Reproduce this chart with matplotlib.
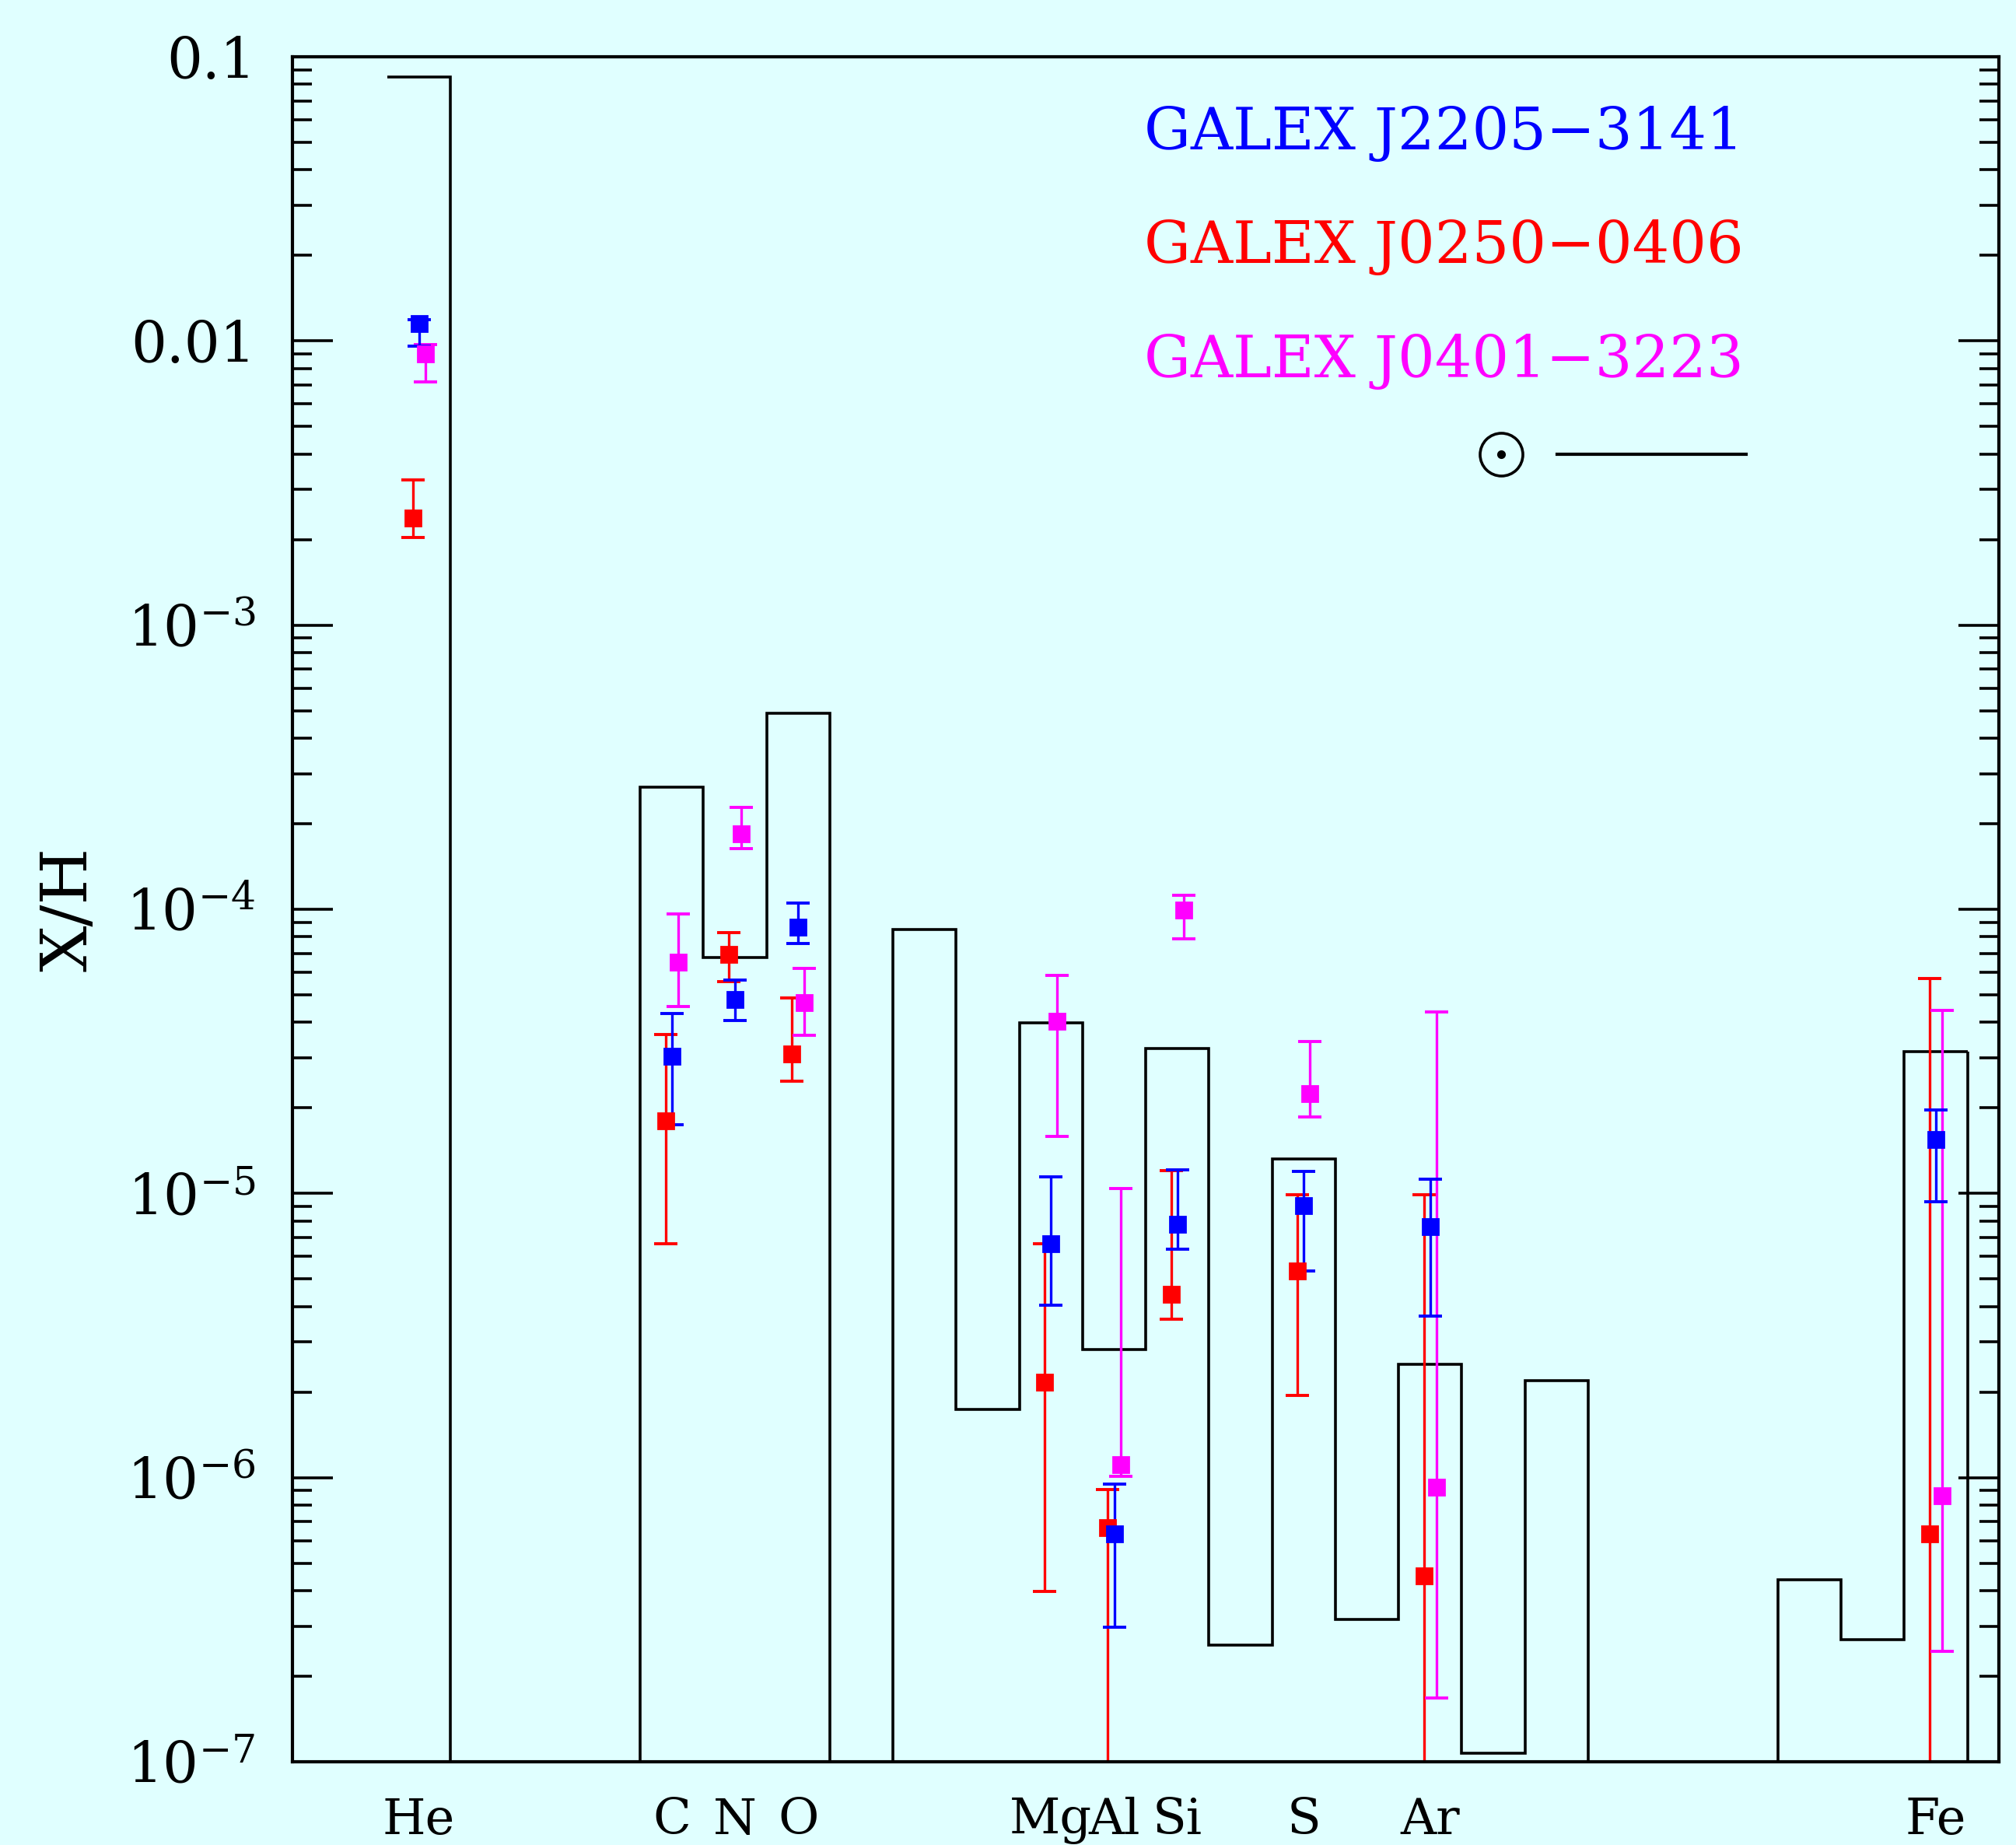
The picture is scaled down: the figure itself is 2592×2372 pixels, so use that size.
import numpy as np
import matplotlib
matplotlib.use("Agg")
import matplotlib.pyplot as plt
from matplotlib.ticker import LogLocator, FixedLocator, FixedFormatter, NullFormatter

plt.rcParams["font.family"] = ["DejaVu Serif"]
plt.rcParams["mathtext.fontset"] = "dejavuserif"

BG = "#E0FFFF"

# Solar photospheric abundances (number relative to H), Z = 2 .. 26
solar_z = np.arange(2, 27)
solar_abund = [8.5e-2, 1.1e-11, 2.4e-11, 5.0e-10, 2.69e-4, 6.76e-5, 4.90e-4,
               3.63e-8, 8.51e-5, 1.74e-6, 3.98e-5, 2.82e-6, 3.24e-5, 2.57e-7,
               1.32e-5, 3.16e-7, 2.51e-6, 1.07e-7, 2.19e-6, 1.41e-9, 8.91e-8,
               8.51e-9, 4.37e-7, 2.69e-7, 3.16e-5]

# Measured elements
elem_names = ["He", "C", "N", "O", "Mg", "Al", "Si", "S", "Ar", "Fe"]
elem_z = [2, 6, 7, 8, 12, 13, 14, 16, 18, 26]

# GALEX J2205-3141
j2205_val = [1.15e-2, 3.03e-5, 4.81e-5, 8.66e-5, 6.66e-6, 6.32e-7, 7.81e-6, 9.05e-6, 7.62e-6, 1.55e-5]
j2205_lo = [9.6e-3, 1.75e-5, 4.07e-5, 7.59e-5, 4.04e-6, 2.97e-7, 6.35e-6, 5.33e-6, 3.70e-6, 9.36e-6]
j2205_hi = [1.19e-2, 4.31e-5, 5.63e-5, 1.054e-4, 1.147e-5, 9.47e-7, 1.212e-5, 1.197e-5, 1.125e-5, 1.97e-5]

# GALEX J0250-0406 (lower bounds of 1e-9 extend past the bottom of the plot)
j0250_val = [2.38e-3, 1.80e-5, 6.92e-5, 3.09e-5, 2.17e-6, 6.68e-7, 4.43e-6, 5.32e-6, 4.50e-7, 6.33e-7]
j0250_lo = [2.04e-3, 6.65e-6, 5.56e-5, 2.49e-5, 3.98e-7, 1e-9, 3.62e-6, 1.95e-6, 1e-9, 1e-9]
j0250_hi = [3.25e-3, 3.63e-5, 8.30e-5, 4.87e-5, 6.65e-6, 9.08e-7, 1.20e-5, 9.89e-6, 9.89e-6, 5.71e-5]

# GALEX J0401-3223
j0401_val = [9.0e-3, 6.53e-5, 1.84e-4, 4.69e-5, 4.03e-5, 1.11e-6, 9.93e-5, 2.24e-5, 9.23e-7, 8.65e-7]
j0401_lo = [7.2e-3, 4.56e-5, 1.64e-4, 3.61e-5, 1.59e-5, 1.01e-6, 7.87e-5, 1.86e-5, 1.68e-7, 2.45e-7]
j0401_hi = [9.7e-3, 9.66e-5, 2.29e-4, 6.2e-5, 5.86e-5, 1.04e-5, 1.12e-4, 3.42e-5, 4.36e-5, 4.42e-5]

y_tick_vals = [1e-7, 1e-6, 1e-5, 1e-4, 1e-3, 1e-2, 1e-1]
y_tick_labels = [r"$10^{-7}$", r"$10^{-6}$", r"$10^{-5}$", r"$10^{-4}$",
                 r"$10^{-3}$", "0.01", "0.1"]

fig = plt.figure(figsize=(12.96, 11.86), dpi=200, facecolor=BG)
ax = fig.add_axes([0.1451, 0.0451, 0.8465, 0.9241])
ax.set_facecolor(BG)
ax.set_yscale("log")
ax.set_xlim(0, 27)
ax.set_ylim(1e-7, 0.1)

# Solar pattern as a step line centred on each atomic number
edges = np.append(solar_z - 0.5, solar_z[-1] + 0.5)
ax.stairs(solar_abund, edges, baseline=None, color="k", lw=1.3, joinstyle="miter")
ax.vlines(edges[-1], 1e-9, solar_abund[-1], color="k", lw=1.3)

series = [
    (j0250_val, j0250_lo, j0250_hi, -0.1, "#FF0000"),
    (j0401_val, j0401_lo, j0401_hi, 0.1, "#FF00FF"),
    (j2205_val, j2205_lo, j2205_hi, 0.0, "#0000FF"),
]
for val, lo, hi, off, col in series:
    val = np.array(val)
    yerr = [val - np.array(lo), np.array(hi) - val]
    ax.errorbar(np.array(elem_z) + off, val, yerr=yerr, fmt="s", color=col,
                mfc=col, mec=col, ms=7.2, elinewidth=1.2, capsize=5.4,
                capthick=1.4)

# Axes styling
for sp in ax.spines.values():
    sp.set_linewidth(1.5)
    sp.set_color("k")

ax.yaxis.set_major_locator(FixedLocator(y_tick_vals))
ax.yaxis.set_major_formatter(FixedFormatter(y_tick_labels))
ax.yaxis.set_minor_locator(LogLocator(base=10, subs=np.arange(2, 10)))
ax.yaxis.set_minor_formatter(NullFormatter())
ax.tick_params(axis="y", which="both", direction="in", left=True, right=True,
               width=1.3, labelsize=26, pad=17)
ax.tick_params(axis="y", which="major", length=18.7)
ax.tick_params(axis="y", which="minor", length=9)

ax.set_xticks(elem_z)
ax.set_xticklabels(elem_names)
ax.tick_params(axis="x", which="both", length=0, pad=16, labelsize=23)
ax.xaxis.set_minor_locator(FixedLocator([]))

ax.set_ylabel("X/H", fontsize=30)
ax.yaxis.set_label_coords(-0.113, 0.5)

# Key
key = [("GALEX J2205\u22123141", "#0000FF", 0.9553),
       ("GALEX J0250\u22120406", "#FF0000", 0.8884),
       ("GALEX J0401\u22123223", "#FF00FF", 0.8216)]
for txt, col, yy in key:
    ax.text(0.499, yy, txt, color=col, fontsize=27, ha="left", va="center",
            transform=ax.transAxes)

ax.plot([0.7083], [0.7669], "o", mfc="none", mec="k", ms=19.8, mew=1.3,
        transform=ax.transAxes, clip_on=False)
ax.plot([0.7083], [0.7669], "o", color="k", ms=3, transform=ax.transAxes,
        clip_on=False)
ax.plot([0.741, 0.852], [0.7669, 0.7669], "k-", lw=1.5, transform=ax.transAxes)

fig.savefig("out.png", dpi=200, facecolor=BG)
